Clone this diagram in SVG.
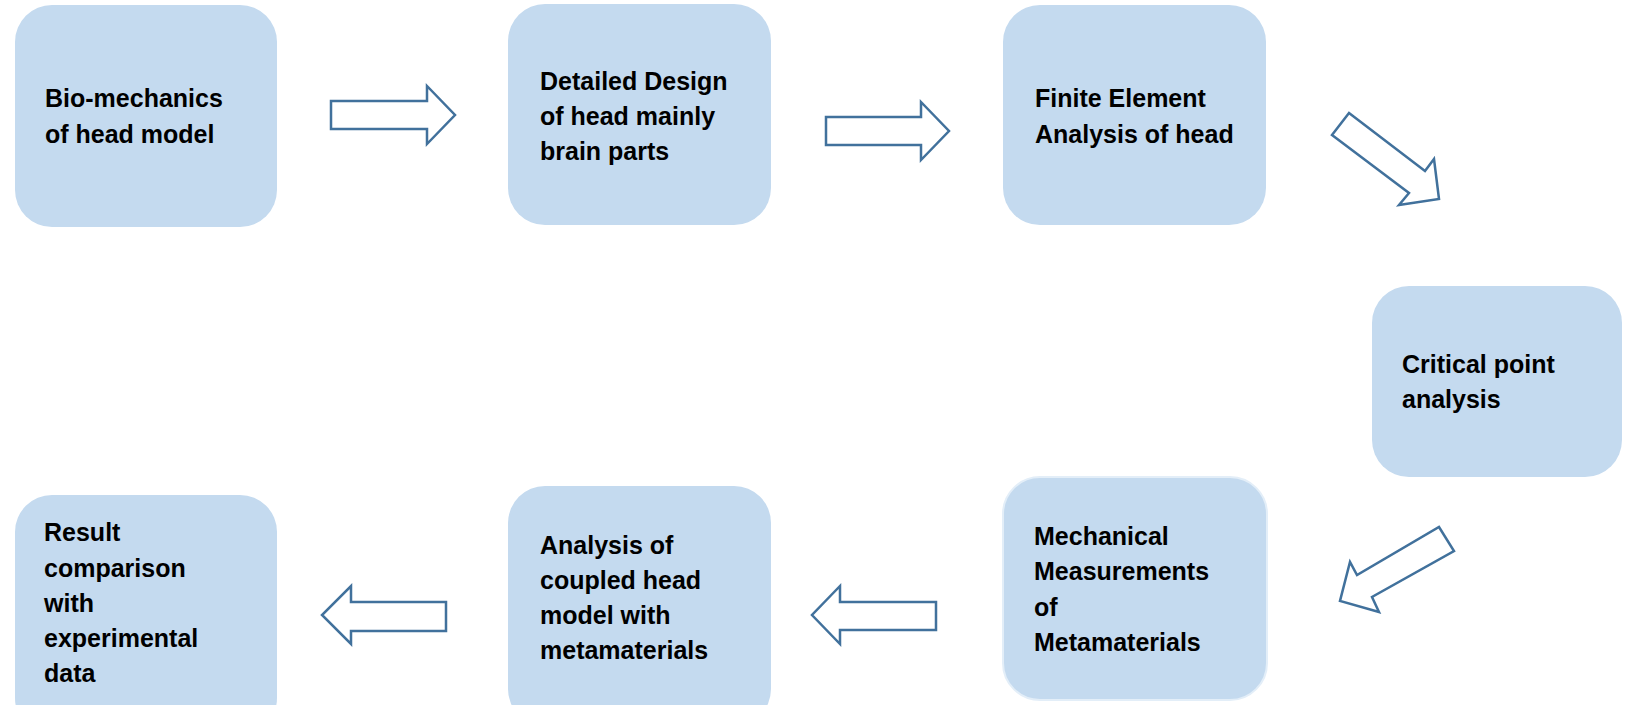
<svg xmlns="http://www.w3.org/2000/svg" width="1626" height="705" viewBox="0 0 1626 705">
<style>
.box{fill:#C4DAEF;}
.box2{fill:#C4DAEF;stroke:#E3EEF8;stroke-width:2;}
.lbl{font-family:"Liberation Sans",Arial,sans-serif;font-weight:bold;font-size:25px;fill:#000;}
.arr{fill:#FFFFFF;stroke:#41719C;stroke-width:2.5;stroke-linejoin:miter;}
</style>
<rect width="1626" height="705" fill="#FFFFFF"/>
<g id="n1"><rect class="box" x="15" y="5" width="262" height="222" rx="37"/>
<text class="lbl"><tspan x="45" y="107">Bio-mechanics</tspan><tspan x="45" y="143">of head model</tspan></text></g>
<g id="n2"><rect class="box" x="508" y="4" width="263" height="221" rx="37"/>
<text class="lbl"><tspan x="540" y="90">Detailed Design</tspan><tspan x="540" y="125">of head mainly</tspan><tspan x="540" y="160">brain parts</tspan></text></g>
<g id="n3"><rect class="box" x="1003" y="5" width="263" height="220" rx="37"/>
<text class="lbl"><tspan x="1035" y="107">Finite Element</tspan><tspan x="1035" y="143">Analysis of head</tspan></text></g>
<g id="n4"><rect class="box" x="1372" y="286" width="250" height="191" rx="37"/>
<text class="lbl"><tspan x="1402" y="373">Critical point</tspan><tspan x="1402" y="408">analysis</tspan></text></g>
<g id="n5"><rect class="box2" x="1003" y="477" width="264" height="223" rx="37"/>
<text class="lbl"><tspan x="1034" y="545">Mechanical</tspan><tspan x="1034" y="580">Measurements</tspan><tspan x="1034" y="616">of</tspan><tspan x="1034" y="651">Metamaterials</tspan></text></g>
<g id="n6"><rect class="box" x="508" y="486" width="263" height="240" rx="37"/>
<text class="lbl"><tspan x="540" y="554">Analysis of</tspan><tspan x="540" y="589">coupled head</tspan><tspan x="540" y="624">model with</tspan><tspan x="540" y="659">metamaterials</tspan></text></g>
<g id="n7"><rect class="box" x="15" y="495" width="262" height="240" rx="37"/>
<text class="lbl"><tspan x="44" y="541">Result</tspan><tspan x="44" y="577">comparison</tspan><tspan x="44" y="612">with</tspan><tspan x="44" y="647">experimental</tspan><tspan x="44" y="682">data</tspan></text></g>
<g id="connectors">
<polygon class="arr" points="331,101 427,101 427,86 455,115 427,144 427,129 331,129"/>
<polygon class="arr" points="826,117 921,117 921,102 949,131 921,160 921,145 826,145"/>
<polygon class="arr" points="1349,113 1425,171 1434,159 1439,199 1399,205 1409,193 1332,135"/>
<polygon class="arr" points="1439,527 1454,551 1372,597 1379,612 1340,601 1350,562 1357,575"/>
<polygon class="arr" points="936,602 840,602 840,586 812,615 840,644 840,630 936,630"/>
<polygon class="arr" points="446,602 351,602 351,586 322,615 351,644 351,631 446,631"/>
</g>
</svg>
